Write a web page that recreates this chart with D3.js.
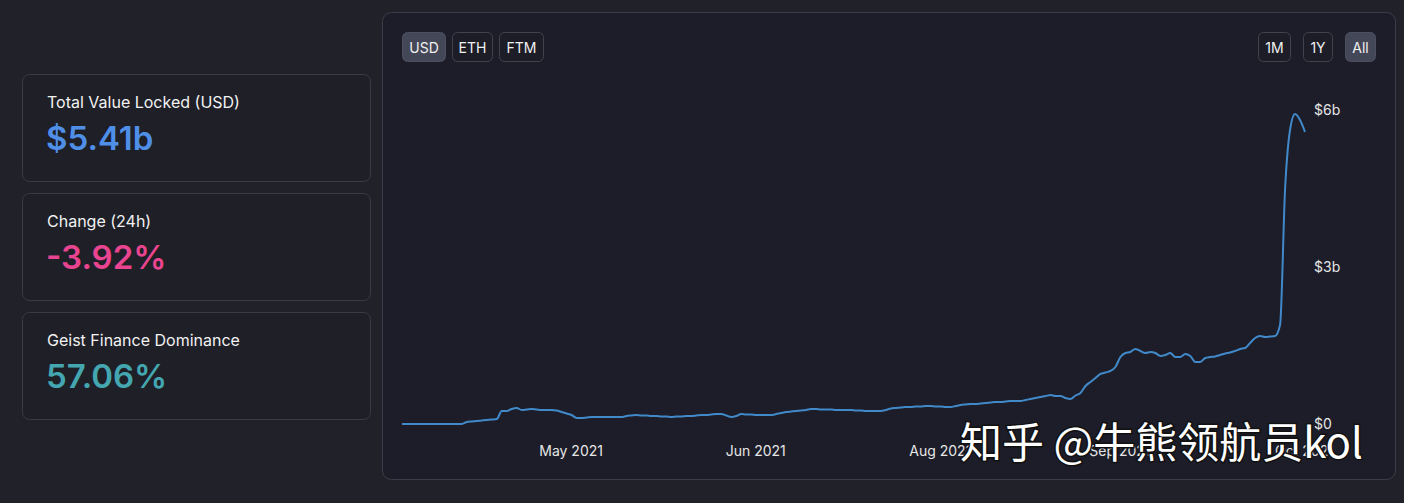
<!DOCTYPE html>
<html><head><meta charset="utf-8">
<script src="https://cdn.jsdelivr.net/npm/d3@7"></script>
<style>
html,body{margin:0;padding:0;background:#212229;overflow:hidden;}
svg{display:block;font-family:Inter,"Noto Sans",sans-serif;}
</style></head><body>
<svg id="c" width="1404" height="503"></svg>
<script>
// ---- data (TVL in $ millions, one value per data point) ----
const tvlMillions = [
  19,19,19,19,19,19,19,19,19,19,
  19,19,19,57,67,76,86,96,105,115,
  268,268,306,325,287,296,306,296,287,287,
  287,277,248,220,191,134,134,143,153,153,
  153,153,153,153,153,172,182,191,182,182,
  172,172,162,162,153,162,162,172,172,182,
  191,191,201,210,210,182,153,172,210,201,
  201,191,191,191,191,210,229,248,258,268,
  277,287,306,306,296,296,296,287,287,287,
  287,277,277,268,268,268,268,287,315,325,
  334,344,344,354,354,363,363,354,354,344,
  344,363,382,392,401,401,411,420,430,440,
  440,449,459,459,459,478,497,516,535,554,
  573,554,554,516,497,564,612,745,822,898,
  975,1003,1032,1108,1299,1376,1395,1452,1414,1376,
  1395,1376,1319,1338,1376,1299,1299,1357,1319,1204,
  1204,1280,1299,1309,1338,1366,1385,1414,1452,1471,
  1567,1663,1701,1682,1691,1701,1911,4491,5637,5943,
  5829,5600
];
const xTickIndex = [34, 71, 108, 144, 181];
const xTickLabels = ["May 2021", "Jun 2021", "Aug 2021", "Sep 2021", "Oct 2021"];
const yTicks = [0, 3000, 6000];
const yTickLabels = ["$0", "$3b", "$6b"];
const statLabels = ["Total Value Locked (USD)", "Change (24h)", "Geist Finance Dominance"];
const statValues = ["$5.41b", "-3.92%", "57.06%"];
const statColors = ["#4f8fe8", "#e8448f", "#44a6b0"];
const currencyButtons = ["USD", "ETH", "FTM"];
const rangeButtons = ["1M", "1Y", "All"];
const watermark = "知乎 @牛熊领航员kol";

const svg = d3.select("#c");

// page background
svg.append("rect").attr("width",1404).attr("height",503).attr("fill","#212229");

// stat cards
const cardTop = [74, 193, 312];
statLabels.forEach((lab, i) => {
  const g = svg.append("g").attr("transform", `translate(22,${cardTop[i]})`);
  g.append("rect").attr("x",0.5).attr("y",0.5).attr("width",348).attr("height",107)
    .attr("rx",7).attr("fill","#1e1f27").attr("stroke","#393b45");
  g.append("text").attr("x",25).attr("y",34).attr("fill","#f2f2f2")
    .attr("font-size",16).text(lab);
  g.append("text").attr("x",24).attr("y",76).attr("fill",statColors[i])
    .attr("font-size",33).attr("font-weight",600).text(statValues[i]);
});

// chart panel
svg.append("rect").attr("x",382.5).attr("y",12.5).attr("width",1013).attr("height",467)
  .attr("rx",9).attr("fill","#1c1d28").attr("stroke","#3a3c47");

// buttons
function drawButtons(labels, xs, ws, activeIdx) {
  labels.forEach((t, i) => {
    const g = svg.append("g").attr("transform", `translate(${xs[i]},32)`);
    g.append("rect").attr("x",0.5).attr("y",0.5).attr("width",ws[i]).attr("height",29)
      .attr("rx",5).attr("fill", i === activeIdx ? "#444758" : "#1c1d26")
      .attr("stroke", i === activeIdx ? "#4c4f60" : "#41434e");
    g.append("text").attr("x",ws[i]/2+0.5).attr("y",20.5).attr("text-anchor","middle")
      .attr("fill","#f0f0f0").attr("font-size",14).text(t);
  });
}
drawButtons(currencyButtons, [402, 452, 499], [43, 40, 44], 0);
drawButtons(rangeButtons, [1258, 1303, 1345], [32, 29, 30], 2);

// scales
const x = d3.scaleLinear().domain([0, tvlMillions.length - 1]).range([402, 1305]);
const y = d3.scaleLinear().domain([0, 6000]).range([425, 111]);

// line
const line = d3.line().x((d, i) => x(i)).y(d => y(d)).curve(d3.curveMonotoneX);
svg.append("path").datum(tvlMillions).attr("d", line)
  .attr("fill","none").attr("stroke","#4189c9").attr("stroke-width",2)
  .attr("stroke-linejoin","round");

// x axis
const xAxis = d3.axisBottom(x).tickValues(xTickIndex)
  .tickFormat((d, i) => xTickLabels[i]).tickSize(0).tickPadding(3);
const gx = svg.append("g").attr("transform","translate(-1,443)").call(xAxis);
gx.select(".domain").remove();
gx.selectAll("text").attr("fill","#e6e6e6").attr("font-size",14)
  .attr("font-family","Inter,'Noto Sans',sans-serif");

// y axis
const yAxis = d3.axisRight(y).tickValues(yTicks)
  .tickFormat((d, i) => yTickLabels[i]).tickSize(0).tickPadding(0);
const gy = svg.append("g").attr("transform","translate(1314,-1)").call(yAxis);
gy.select(".domain").remove();
gy.selectAll("text").attr("fill","#e6e6e6").attr("font-size",14)
  .attr("font-family","Inter,'Noto Sans',sans-serif");

// watermark overlay
svg.append("text").attr("x",960).attr("y",458)
  .attr("font-family","'Noto Sans CJK SC','Noto Sans',sans-serif")
  .attr("font-size",42).attr("fill","#ffffff")
  .attr("stroke","#111111").attr("stroke-width",3).attr("paint-order","stroke")
  .text(watermark);
</script>
</body></html>
